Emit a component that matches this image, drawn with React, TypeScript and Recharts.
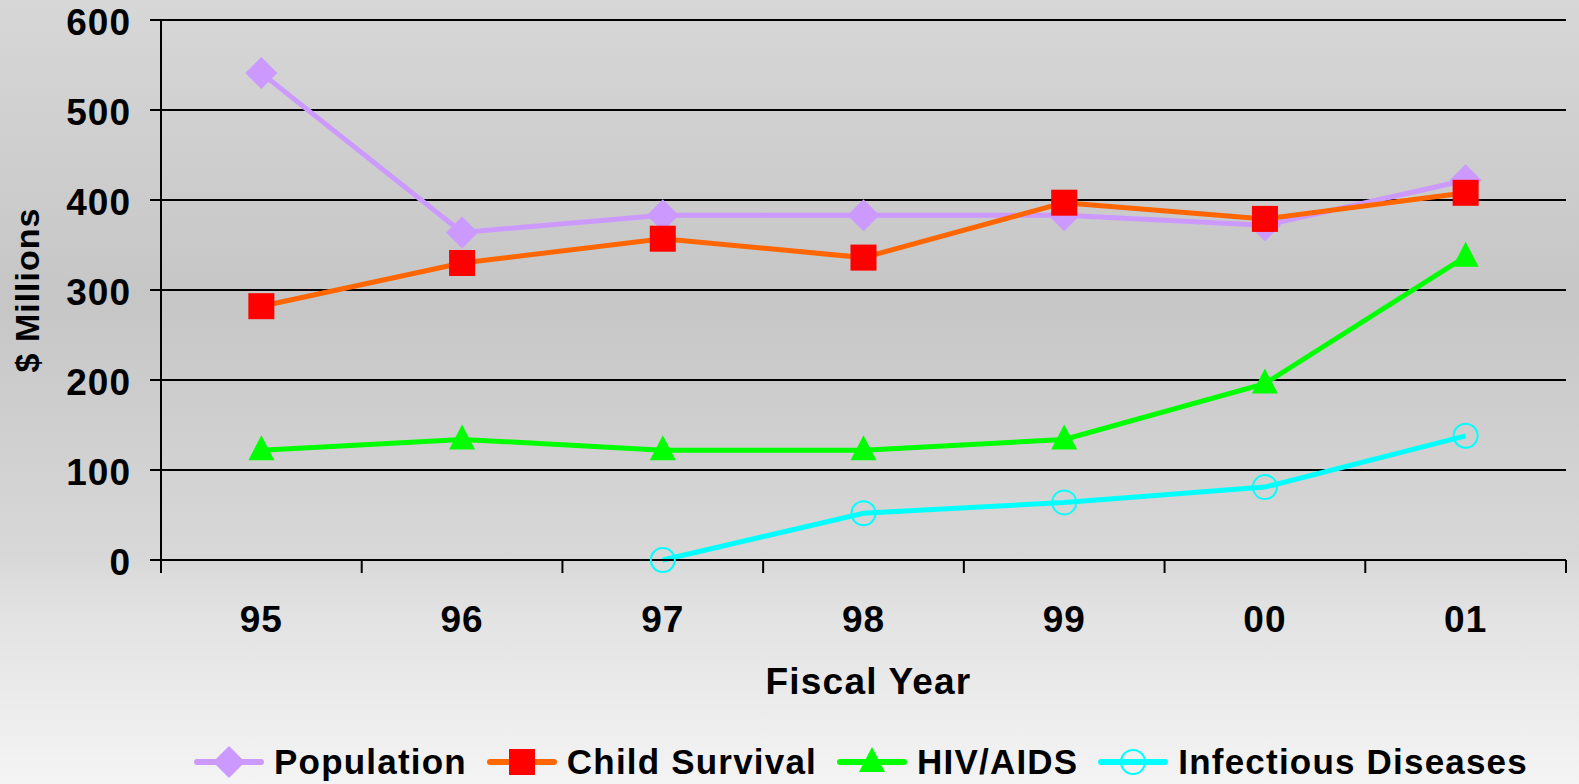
import React from 'react';
import { LineChart, Line, XAxis, YAxis, CartesianGrid, Legend, Label } from 'recharts';

const years = ['95', '96', '97', '98', '99', '00', '01'];
const population = [541, 364, 383, 383, 383, 372, 422];
const childSurvival = [282, 330, 357, 336, 397, 379, 408];
const hivAids = [122, 134, 122, 122, 134, 196, 337];
const infectiousDiseases: (number | null)[] = [null, null, 0, 52, 64, 81, 138];
const yTicks = [0, 100, 200, 300, 400, 500, 600];
const seriesNames = ['Population', 'Child Survival', 'HIV/AIDS', 'Infectious Diseases'];

const data = years.map((y, i) => ({
  year: y,
  population: population[i],
  childSurvival: childSurvival[i],
  hivAids: hivAids[i],
  infectious: infectiousDiseases[i],
}));

const W = 1579;
const H = 784;
const M = { top: 20, right: 13, left: 0, bottom: 0 };
const Y_W = 161;
const LEGEND_H = 70;
const PLOT_H = 540;
const X_H = H - M.top - M.bottom - LEGEND_H - PLOT_H;
const BAND = (W - M.left - M.right - Y_W) / years.length;
const FONT = "'Liberation Sans', Arial, Helvetica, sans-serif";
const TICK_LEN = 13;

type Kind = 'diamond' | 'square' | 'triangle' | 'circle';

const STYLES: { key: string; kind: Kind; line: string; fill: string }[] = [
  { key: 'population', kind: 'diamond', line: '#cc99ff', fill: '#cc99ff' },
  { key: 'childSurvival', kind: 'square', line: '#ff6600', fill: '#ff0000' },
  { key: 'hivAids', kind: 'triangle', line: '#00ff00', fill: '#00ff00' },
  { key: 'infectious', kind: 'circle', line: '#00ffff', fill: '#00ffff' },
];

function Marker({ kind, cx, cy, color }: { kind: Kind; cx: number; cy: number; color: string }) {
  if (kind === 'diamond') {
    const r = 16;
    return <polygon points={`${cx},${cy - r} ${cx + r},${cy} ${cx},${cy + r} ${cx - r},${cy}`} fill={color} />;
  }
  if (kind === 'square') {
    return <rect x={cx - 13} y={cy - 13} width={26} height={26} fill={color} />;
  }
  if (kind === 'triangle') {
    return <polygon points={`${cx},${cy - 15} ${cx + 13},${cy + 10} ${cx - 13},${cy + 10}`} fill={color} />;
  }
  return <circle cx={cx} cy={cy} r={12} fill="none" stroke={color} strokeWidth={2} />;
}

const makeDot = (kind: Kind, color: string) => (p: any) => {
  if (p.value == null || p.cx == null || p.cy == null) return <g key={`d-${kind}-${p.index}`} />;
  return (
    <g key={`d-${kind}-${p.index}`}>
      <Marker kind={kind} cx={p.cx} cy={p.cy} color={color} />
    </g>
  );
};

const XTick = (props: any) => {
  const { x, y, payload, index } = props;
  const axisY = y - TICK_LEN;
  const left = x - BAND / 2;
  return (
    <g>
      <line x1={left} y1={axisY} x2={left} y2={axisY + TICK_LEN} stroke="#000" strokeWidth={2} />
      {index === years.length - 1 && (
        <line x1={x + BAND / 2} y1={axisY} x2={x + BAND / 2} y2={axisY + TICK_LEN} stroke="#000" strokeWidth={2} />
      )}
      <text
        x={x}
        y={axisY + 72}
        textAnchor="middle"
        fill="#000"
        fontFamily={FONT}
        fontWeight="bold"
        fontSize={37}
        letterSpacing={1}
      >
        {payload.value}
      </text>
    </g>
  );
};

const renderLegend = () => (
  <div
    style={{
      width: W,
      height: LEGEND_H,
      boxSizing: 'border-box',
      paddingTop: 26,
      paddingLeft: 143,
      display: 'flex',
      justifyContent: 'center',
      alignItems: 'center',
      fontFamily: FONT,
      fontWeight: 'bold',
      fontSize: 35,
      letterSpacing: 1.2,
      color: '#000',
    }}
  >
    {STYLES.map((s, i) => (
      <div key={s.key} style={{ display: 'flex', alignItems: 'center', marginLeft: i === 0 ? 0 : 20 }}>
        <svg width={70} height={34} style={{ display: 'block' }}>
          <line x1={3} y1={17} x2={67} y2={17} stroke={s.line} strokeWidth={6} strokeLinecap="round" />
          <Marker kind={s.kind} cx={35} cy={17} color={s.fill} />
        </svg>
        <span style={{ marginLeft: 10, whiteSpace: 'nowrap', lineHeight: '34px' }}>{seriesNames[i]}</span>
      </div>
    ))}
  </div>
);

export default function App() {
  return (
    <div
      style={{
        position: 'absolute',
        left: 0,
        top: 0,
        width: W,
        height: H,
        background:
          'linear-gradient(to bottom, #d7d7d7 0%, #c6c6c6 38%, #d8d8d8 71%, #e2e2e2 78%, #f4f4f4 100%)',
      }}
    >
      <LineChart width={W} height={H} data={data} margin={M}>
        <CartesianGrid horizontal vertical={false} stroke="#000" strokeWidth={2} fill="none" />
        <XAxis
          dataKey="year"
          scale="band"
          height={X_H}
          axisLine={{ stroke: '#000', strokeWidth: 2 }}
          tickLine={false}
          tickSize={TICK_LEN}
          tickMargin={0}
          tick={<XTick />}
          interval={0}
        >
          <Label
            value="Fiscal Year"
            position="insideBottom"
            offset={20}
            dx={5}
            style={{ fontFamily: FONT, fontWeight: 'bold', fontSize: 37, letterSpacing: 1.2, fill: '#000' }}
          />
        </XAxis>
        <YAxis
          width={Y_W}
          domain={[0, 600]}
          ticks={yTicks}
          interval={0}
          axisLine={{ stroke: '#000', strokeWidth: 2 }}
          tickLine={{ stroke: '#000', strokeWidth: 2 }}
          tickSize={11}
          tickMargin={19}
          tick={{ fill: '#000', fontFamily: FONT, fontWeight: 'bold', fontSize: 37, letterSpacing: 1, dy: 2 }}
        >
          <Label
            value="$ Millions"
            angle={-90}
            position="insideLeft"
            offset={27}
            textAnchor="middle"
            style={{ fontFamily: FONT, fontWeight: 'bold', fontSize: 34, letterSpacing: 1, fill: '#000', textAnchor: 'middle' }}
          />
        </YAxis>
        <Legend verticalAlign="bottom" content={renderLegend} wrapperStyle={{ left: 0, width: W, height: LEGEND_H, bottom: 0 }} />
        {STYLES.map((s, i) => (
          <Line
            key={s.key}
            name={seriesNames[i]}
            dataKey={s.key}
            stroke={s.line}
            strokeWidth={5}
            dot={makeDot(s.kind, s.fill)}
            activeDot={false}
            isAnimationActive={false}
          />
        ))}
      </LineChart>
    </div>
  );
}
